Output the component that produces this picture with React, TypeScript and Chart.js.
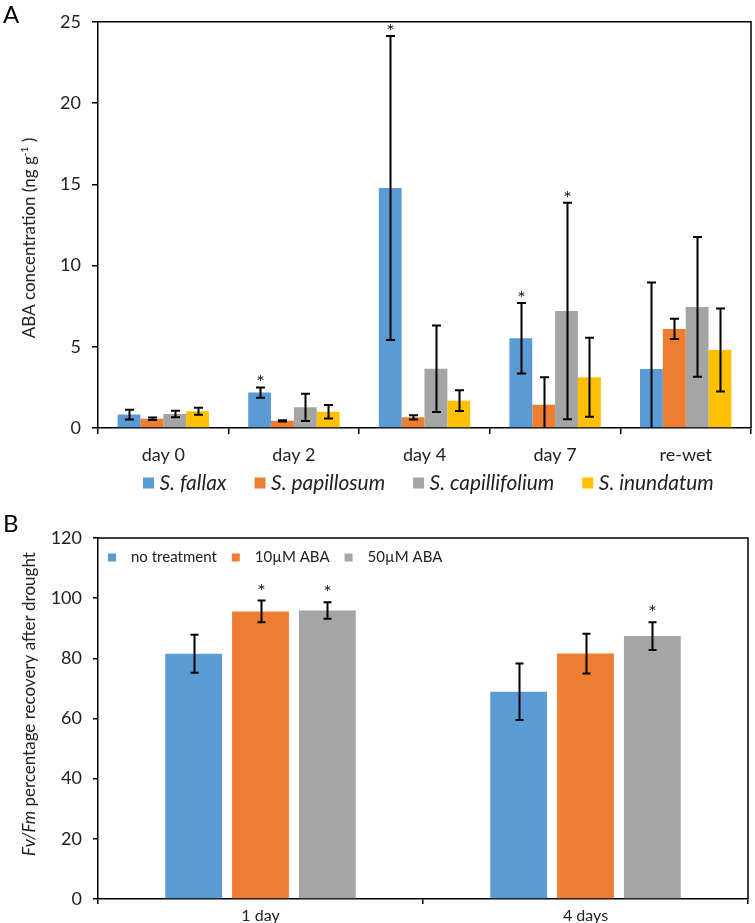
import React, { useEffect, useRef } from 'react';
import { Chart, registerables } from 'chart.js';

Chart.register(...registerables);

const FONT = 'Lato, "Open Sans", sans-serif';

// ---------- Panel A data ----------
const categoriesA = ['day 0', 'day 2', 'day 4', 'day 7', 're-wet'];
const speciesA = ['S. fallax', 'S. papillosum', 'S. capillifolium', 'S. inundatum'];
const fallax = [0.83, 2.18, 14.77, 5.52, 3.63];
const fallaxErr = [0.3, 0.32, 9.35, 2.17, 5.33];
const papillosum = [0.57, 0.44, 0.66, 1.43, 6.1];
const papillosumErr = [0.08, 0.04, 0.13, 1.7, 0.62];
const capillifolium = [0.86, 1.27, 3.65, 7.2, 7.45];
const capillifoliumErr = [0.2, 0.84, 2.66, 6.66, 4.3];
const inundatum = [1.03, 1.0, 1.68, 3.13, 4.8];
const inundatumErr = [0.22, 0.42, 0.64, 2.43, 2.55];
const sigFallax = [false, true, true, true, false];
const sigPapillosum = [false, false, false, false, false];
const sigCapillifolium = [false, false, false, true, false];
const sigInundatum = [false, false, false, false, false];
const ticksA = { min: 0, max: 25, step: 5 };

// ---------- Panel B data ----------
const categoriesB = ['1 day', '4 days'];
const treatmentsB = ['no treatment', '10\u00B5M ABA', '50\u00B5M ABA'];
const noTreatment = [81.5, 68.9];
const noTreatmentErr = [6.3, 9.4];
const aba10 = [95.6, 81.6];
const aba10Err = [3.6, 6.6];
const aba50 = [95.9, 87.4];
const aba50Err = [2.75, 4.6];
const sigNoTreatment = [false, false];
const sigAba10 = [true, false];
const sigAba50 = [true, true];
const ticksB = { min: 0, max: 120, step: 20 };

const COLORS = ['#5B9BD5', '#ED7D31', '#A5A5A5', '#FFC000'];

function errorPlugin(errs: number[][], sigs: boolean[][], cap: number, starGap: number, starFont: string) {
  return {
    id: 'errbars',
    afterDatasetsDraw(chart: any) {
      const ctx = chart.ctx;
      const y = chart.scales.y;
      ctx.save();
      ctx.strokeStyle = '#000';
      ctx.lineWidth = 2;
      chart.data.datasets.forEach((ds: any, i: number) => {
        const meta = chart.getDatasetMeta(i);
        meta.data.forEach((bar: any, j: number) => {
          const v = ds.data[j];
          const e = errs[i][j];
          const top = y.getPixelForValue(v + e);
          const lowVal = v - e;
          const clipped = lowVal < y.min;
          const bot = y.getPixelForValue(Math.max(lowVal, y.min));
          const x = Math.round(bar.x) + 0.5;
          ctx.beginPath();
          ctx.moveTo(x, top);
          ctx.lineTo(x, bot);
          ctx.moveTo(x - cap, top);
          ctx.lineTo(x + cap, top);
          if (!clipped) {
            ctx.moveTo(x - cap, bot);
            ctx.lineTo(x + cap, bot);
          }
          ctx.stroke();
          if (sigs[i][j]) {
            ctx.fillStyle = '#222';
            ctx.font = starFont;
            ctx.textAlign = 'center';
            ctx.textBaseline = 'alphabetic';
            ctx.fillText('*', x, top - starGap);
          }
        });
      });
      ctx.restore();
    },
  };
}

const boxPlugin = {
  id: 'box',
  afterDraw(chart: any) {
    const { ctx, chartArea } = chart;
    ctx.save();
    ctx.strokeStyle = '#000';
    ctx.lineWidth = 1.5;
    ctx.beginPath();
    ctx.moveTo(chartArea.left, chartArea.top);
    ctx.lineTo(chartArea.right, chartArea.top);
    ctx.lineTo(chartArea.right, chartArea.bottom);
    ctx.stroke();
    ctx.restore();
  },
};

const decorA = {
  id: 'decorA',
  afterDraw(chart: any) {
    const ctx = chart.ctx;
    ctx.save();
    // panel letter
    ctx.fillStyle = '#000';
    ctx.font = `24px ${FONT}`;
    ctx.textAlign = 'left';
    ctx.textBaseline = 'alphabetic';
    ctx.fillText('A', 3, 23);
    // y title with superscript
    ctx.translate(30, 238);
    ctx.rotate(-Math.PI / 2);
    const main = 'ABA concentration (ng g';
    const sup = '-1';
    const end = ' )';
    const f1 = `17px ${FONT}`;
    const f2 = `10px ${FONT}`;
    ctx.font = f1;
    const w1 = ctx.measureText(main).width;
    const w3 = ctx.measureText(end).width;
    ctx.font = f2;
    const w2 = ctx.measureText(sup).width;
    let x0 = -(w1 + w2 + w3) / 2;
    ctx.fillStyle = '#222';
    ctx.textBaseline = 'middle';
    ctx.font = f1;
    ctx.fillText(main, x0, 0);
    x0 += w1;
    ctx.font = f2;
    ctx.fillText(sup, x0, -5);
    x0 += w2;
    ctx.font = f1;
    ctx.fillText(end, x0, 0);
    ctx.restore();

    // legend (font sized so "S. capillifolium" spans ~125px as in the reference)
    ctx.save();
    ctx.font = `italic 20px ${FONT}`;
    const ref = ctx.measureText(speciesA[2]).width;
    const size = Math.min(23, Math.max(17, (20 * 125) / ref));
    ctx.font = `italic ${size.toFixed(1)}px ${FONT}`;
    ctx.textBaseline = 'middle';
    ctx.textAlign = 'left';
    let x = 143;
    const yc = 483;
    speciesA.forEach((s, i) => {
      ctx.fillStyle = COLORS[i];
      ctx.fillRect(x, yc - 5.5, 11, 11);
      x += 16.5;
      ctx.fillStyle = '#222';
      ctx.fillText(s, x, yc);
      x += ctx.measureText(s).width + 28;
    });
    ctx.restore();
  },
};

const decorB = {
  id: 'decorB',
  afterDraw(chart: any) {
    const ctx = chart.ctx;
    ctx.save();
    ctx.fillStyle = '#000';
    ctx.font = `24px ${FONT}`;
    ctx.textAlign = 'left';
    ctx.textBaseline = 'alphabetic';
    ctx.fillText('B', 3, 27);
    // y title mixed italic
    ctx.translate(30, 199);
    ctx.rotate(-Math.PI / 2);
    const p1 = 'Fv/Fm';
    const p2 = ' percentage recovery after drought';
    const fi = `italic 17px ${FONT}`;
    const fn = `17px ${FONT}`;
    ctx.font = fi;
    const w1 = ctx.measureText(p1).width;
    ctx.font = fn;
    const w2 = ctx.measureText(p2).width;
    let x0 = -(w1 + w2) / 2;
    ctx.fillStyle = '#222';
    ctx.textBaseline = 'middle';
    ctx.font = fi;
    ctx.fillText(p1, x0, 0);
    x0 += w1;
    ctx.font = fn;
    ctx.fillText(p2, x0, 0);
    ctx.restore();

    // legend inside
    ctx.save();
    ctx.font = `15px ${FONT}`;
    ctx.textBaseline = 'middle';
    ctx.textAlign = 'left';
    let x = 108;
    const yc = 52.5;
    treatmentsB.forEach((s, i) => {
      ctx.fillStyle = COLORS[i];
      ctx.fillRect(x, yc - 4, 8, 8);
      x += 23;
      ctx.fillStyle = '#222';
      ctx.fillText(s, x, yc);
      x += ctx.measureText(s).width + 15;
    });
    ctx.restore();
  },
};

function axisCommon(tickLen: number, pad: number, size: number) {
  return {
    grid: {
      drawOnChartArea: false,
      drawTicks: true,
      tickLength: tickLen,
      color: '#000',
      lineWidth: 1.5,
    },
    border: { display: true, color: '#000', width: 1.5 },
    ticks: {
      color: '#222',
      padding: pad,
      font: { family: FONT, size },
    },
  };
}

export default function App() {
  const refA = useRef<HTMLCanvasElement>(null);
  const refB = useRef<HTMLCanvasElement>(null);

  useEffect(() => {
    const dataA = [fallax, papillosum, capillifolium, inundatum];
    const errA = [fallaxErr, papillosumErr, capillifoliumErr, inundatumErr];
    const sigA = [sigFallax, sigPapillosum, sigCapillifolium, sigInundatum];
    const xa = axisCommon(6, 10, 18);
    const ya = axisCommon(6, 11, 18);
    const chartA = new Chart(refA.current as HTMLCanvasElement, {
      type: 'bar',
      data: {
        labels: categoriesA,
        datasets: speciesA.map((s, i) => ({
          label: s,
          data: dataA[i],
          backgroundColor: COLORS[i],
          categoryPercentage: 0.7,
          barPercentage: 1.0,
        })),
      },
      options: {
        responsive: false,
        animation: false,
        layout: { padding: { left: 0, top: 15, right: 4, bottom: 0 } },
        plugins: { legend: { display: false }, tooltip: { enabled: false } },
        scales: {
          x: {
            ...xa,
            grid: { ...xa.grid, offset: true },
            afterFit: (s: any) => { s.height = 77; },
          },
          y: {
            ...ya,
            min: ticksA.min,
            max: ticksA.max,
            ticks: { ...ya.ticks, stepSize: ticksA.step },
            afterFit: (s: any) => { s.width = 98; },
          },
        },
      } as any,
      plugins: [errorPlugin(errA, sigA, 4.5, -2, `20px ${FONT}`), boxPlugin, decorA],
    });

    const dataB = [noTreatment, aba10, aba50];
    const errB = [noTreatmentErr, aba10Err, aba50Err];
    const sigB = [sigNoTreatment, sigAba10, sigAba50];
    const xb = axisCommon(5, 2, 16);
    const yb = axisCommon(5, 11, 18);
    const chartB = new Chart(refB.current as HTMLCanvasElement, {
      type: 'bar',
      data: {
        labels: categoriesB,
        datasets: treatmentsB.map((s, i) => ({
          label: s,
          data: dataB[i],
          backgroundColor: COLORS[i],
          categoryPercentage: 0.617,
          barPercentage: 0.85,
        })),
      },
      options: {
        responsive: false,
        animation: false,
        layout: { padding: { left: 0, top: 33, right: 7, bottom: 0 } },
        plugins: { legend: { display: false }, tooltip: { enabled: false } },
        scales: {
          x: {
            ...xb,
            grid: { ...xb.grid, offset: true },
            afterFit: (s: any) => { s.height = 24; },
          },
          y: {
            ...yb,
            min: ticksB.min,
            max: ticksB.max,
            ticks: { ...yb.ticks, stepSize: ticksB.step },
            afterFit: (s: any) => { s.width = 98; },
          },
        },
      } as any,
      plugins: [errorPlugin(errB, sigB, 4, 3, `20px ${FONT}`), boxPlugin, decorB],
    });

    return () => {
      chartA.destroy();
      chartB.destroy();
    };
  }, []);

  return (
    <div style={{ position: 'absolute', left: 0, top: 0, width: 755, height: 923, background: '#fff' }}>
      <canvas ref={refA} width={755} height={505} style={{ position: 'absolute', left: 0, top: 0, width: 755, height: 505 }} />
      <canvas ref={refB} width={755} height={418} style={{ position: 'absolute', left: 0, top: 505, width: 755, height: 418 }} />
    </div>
  );
}
